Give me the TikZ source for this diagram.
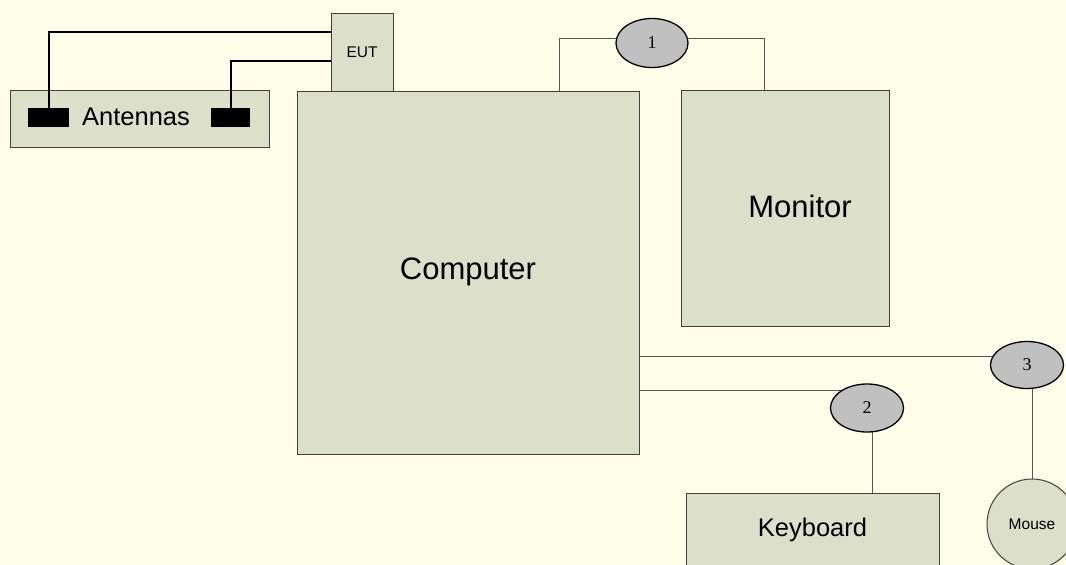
\documentclass[tikz,border=0pt]{standalone}
\usepackage{fontspec}
\setmainfont{Liberation Sans}
\newfontfamily\numfont{Liberation Serif}
\usetikzlibrary{positioning}
\usetikzlibrary{shapes.geometric}
\usetikzlibrary{backgrounds}
\definecolor{paper}{RGB}{254,253,233}
\definecolor{unit}{RGB}{220,223,201}
\definecolor{plug}{RGB}{192,192,192}
\definecolor{cord}{RGB}{85,85,85}

\begin{document}
\begin{tikzpicture}[
    x=1pt, y=-1pt,
    box/.style={rectangle, draw=black!75, line width=1pt, fill=unit, inner sep=0pt, outer sep=0pt},
    ant/.style={rectangle, fill=black, inner sep=0pt, outer sep=0pt, minimum height=19pt},
    port/.style={ellipse, draw=black, line width=1.3pt, fill=plug, inner sep=0pt, minimum width=73pt, minimum height=48pt, font=\numfont\fontsize{18}{20}\selectfont},
    big/.style={font=\fontsize{31}{36}\selectfont},
    mid/.style={font=\fontsize{25.5}{30}\selectfont},
    small/.style={font=\fontsize{15.5}{18}\selectfont},
    wire/.style={draw=black, line width=2pt},
    cord/.style={draw=cord, line width=1pt}
]
    \useasboundingbox (0,0) rectangle (1066,565);
    \begin{scope}[on background layer]
        \fill[paper] (0,0) rectangle (1066,565);
    \end{scope}

    % units
    \node[box, minimum width=259pt, minimum height=57pt] (antbar) at (139.5,118.5) {};
    \node[mid] (anttext) at (136,117) {Antennas};
    \node[ant, minimum width=41pt] (ant1) at (48.5,117.5) {};
    \node[ant, minimum width=39pt] (ant2) at (230.5,117.5) {};
    \node[box, minimum width=342pt, minimum height=363pt] (computer) at (468.5,272.5) {};
    \node[big] (comptext) at (468,272) {Computer};
    \node[box, minimum width=62pt, minimum height=78pt, small] (eut) at (362,52) {EUT};
    \node[box, minimum width=208pt, minimum height=236pt] (monitor) at (785,208) {};
    \node[big] (montext) at (800,206) {Monitor};
    \node[box, minimum width=253pt, minimum height=74pt, mid] (keyboard) at (812.5,530) {Keyboard};
    \node[box, circle, minimum size=90pt, small] (mouse) at (1032,524) {Mouse};

    % ports
    \node[port, minimum width=72pt, minimum height=49pt] (p1) at (652,43) {1};
    \node[port] (p2) at (867,408) {2};
    \node[port, minimum height=47pt] (p3) at (1027,365) {3};

    % antenna wires
    \draw[wire] (ant1.north) |- ([yshift=20pt]eut.west);
    \draw[wire] (ant2.north) |- ([yshift=-9pt]eut.west);

    % cables
    \begin{scope}[on background layer]
        \coordinate (k1) at (559,38);
        \coordinate (k2) at (764,38);
        \coordinate (k3) at (0,356);
        \coordinate (k4) at (0,390);
        \draw[cord] (computer.north -| k1) -- (k1) -- (k1 -| p1.center);
        \draw[cord] (p1.center |- k2) -- (k2) -- (k2 |- monitor.north);
        \draw[cord] (computer.east |- k3) -- (k3 -| p3.center);
        \draw[cord] (p3.center -| mouse.center) -- (mouse.north);
        \draw[cord] (computer.east |- k4) -- (k4 -| p2.center);
        \draw[cord] ([xshift=5pt]p2.center) -- ([xshift=5pt]p2.center |- keyboard.north);
    \end{scope}
\end{tikzpicture}
\end{document}
